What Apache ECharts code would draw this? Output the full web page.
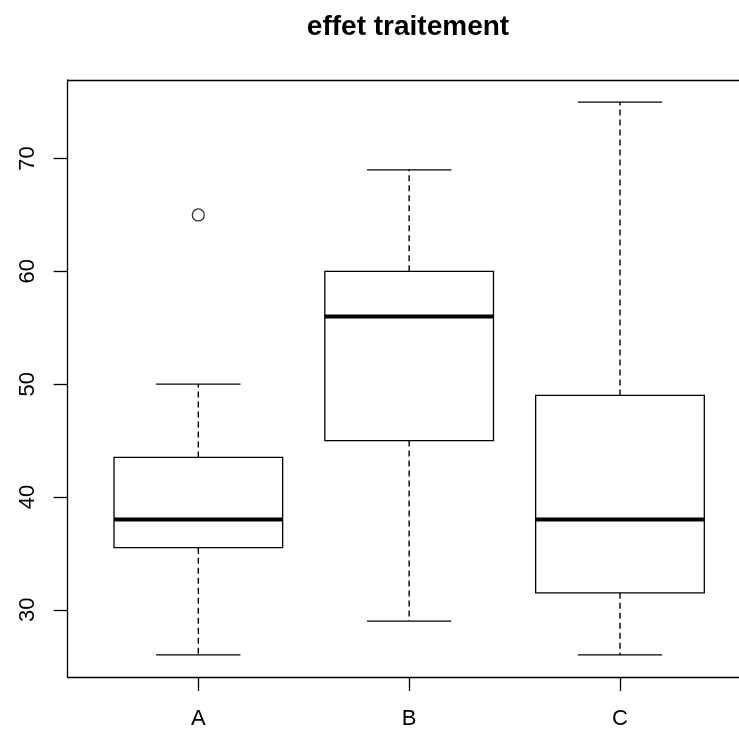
<!DOCTYPE html>
<html>
<head>
<meta charset="utf-8">
<title>effet traitement</title>
<script src="https://cdn.jsdelivr.net/npm/echarts@6/dist/echarts.min.js"></script>
<style>
html,body{margin:0;padding:0;background:#fff;}
#box1{width:739px;height:731px;}
</style>
</head>
<body>
<div id="box1"></div>
<script>
// data
var cats = ['A', 'B', 'C'];
var lowerW = [26, 29, 26];
var q1 = [35.5, 45, 31.5];
var medians = [38, 56, 38];
var q3 = [43.5, 60, 49];
var upperW = [50, 69, 75];
var outCat = ['A'];
var outVal = [65];
var yTicks = [30, 40, 50, 60, 70];

//box drawing: dashed whiskers, staples, box, thick median
function drawBox(params, api){
	var x = api.value(0);
	var half = api.size([0.4, 0])[0];
	var cap = api.size([0.2, 0])[0];
	var pLow = api.coord([x, api.value(1)]);
	var pQ1 = api.coord([x, api.value(2)]);
	var pMed = api.coord([x, api.value(3)]);
	var pQ3 = api.coord([x, api.value(4)]);
	var pHigh = api.coord([x, api.value(5)]);
	var solid = {stroke:'#000', lineWidth:1.3, fill:null};
	var dashed = {stroke:'#000', lineWidth:1.4, lineDash:[6,4], fill:null};
	return {
		type:'group',
		children:[
			{type:'line', shape:{x1:pLow[0], y1:pQ1[1], x2:pLow[0], y2:pLow[1]}, style:dashed},
			{type:'line', shape:{x1:pHigh[0], y1:pQ3[1], x2:pHigh[0], y2:pHigh[1]}, style:dashed},
			{type:'line', shape:{x1:pLow[0]-cap, y1:pLow[1], x2:pLow[0]+cap, y2:pLow[1]}, style:solid},
			{type:'line', shape:{x1:pHigh[0]-cap, y1:pHigh[1], x2:pHigh[0]+cap, y2:pHigh[1]}, style:solid},
			{type:'rect', shape:{x:pQ3[0]-half, y:pQ3[1], width:half*2, height:pQ1[1]-pQ3[1]}, style:solid},
			{type:'line', shape:{x1:pMed[0]-half, y1:pMed[1], x2:pMed[0]+half, y2:pMed[1]}, style:{stroke:'#000', lineWidth:4}}
		]
	};
}

function initChart(){
	var chart = echarts.init(document.getElementById('box1'));
	var boxData = [];
	for(var i=0;i<cats.length;i++){
		boxData.push([i+1, lowerW[i], q1[i], medians[i], q3[i], upperW[i]]);
	}
	var outData = [];
	for(var j=0;j<outVal.length;j++){
		outData.push([cats.indexOf(outCat[j])+1, outVal[j]]);
	}
	var fam = 'Liberation Sans, Arial, sans-serif';
	var frame = {show:true, lineStyle:{color:'#000', width:1.3}};
	var option = {
		backgroundColor:'#fff',
		animation:false,
		title:{
			text:'effet traitement',
			left:403,
			top:8,
			textAlign:'center',
			textStyle:{color:'#000', fontSize:28, fontWeight:'bold', fontFamily:fam}
		},
		// the plot box runs past the right edge of the picture, so no right border
		grid:{
			left:67.6, right:0, top:80, bottom:54,
			show:false,
			containLabel:false
		},
		xAxis:[{
			type:'value',
			min:0.38, max:3.5645,
			position:'bottom',
			axisLine:frame,
			splitLine:{show:false},
			axisTick:{show:true, length:14, customValues:[1,2,3], lineStyle:{color:'#000', width:1.3}},
			axisLabel:{
				show:true, margin:31, fontSize:22, color:'#000', fontFamily:fam,
				customValues:[1,2,3],
				formatter:function(v){ return cats[Math.round(v)-1]; }
			}
		},{
			type:'value',
			min:0.38, max:3.5645,
			position:'top',
			axisLine:frame,
			splitLine:{show:false},
			axisTick:{show:false},
			axisLabel:{show:false}
		}],
		yAxis:{
			type:'value',
			min:24.04, max:76.96,
			axisLine:frame,
			splitLine:{show:false},
			axisTick:{show:true, length:14, customValues:yTicks, lineStyle:{color:'#000', width:1.3}},
			axisLabel:{
				show:true, margin:29, fontSize:22, rotate:90, color:'#000', fontFamily:fam,
				customValues:yTicks
			}
		},
		series:[
			{
				name:'box',
				type:'custom',
				renderItem:drawBox,
				encode:{x:0, y:[1,2,3,4,5]},
				data:boxData,
				z:2
			},
			{
				name:'outliers',
				type:'scatter',
				symbol:'circle',
				symbolSize:12,
				itemStyle:{color:'rgba(0,0,0,0)', borderColor:'#000', borderWidth:1.3},
				data:outData,
				z:3
			}
		]
	};
	chart.setOption(option);
}
initChart();
</script>
</body>
</html>
